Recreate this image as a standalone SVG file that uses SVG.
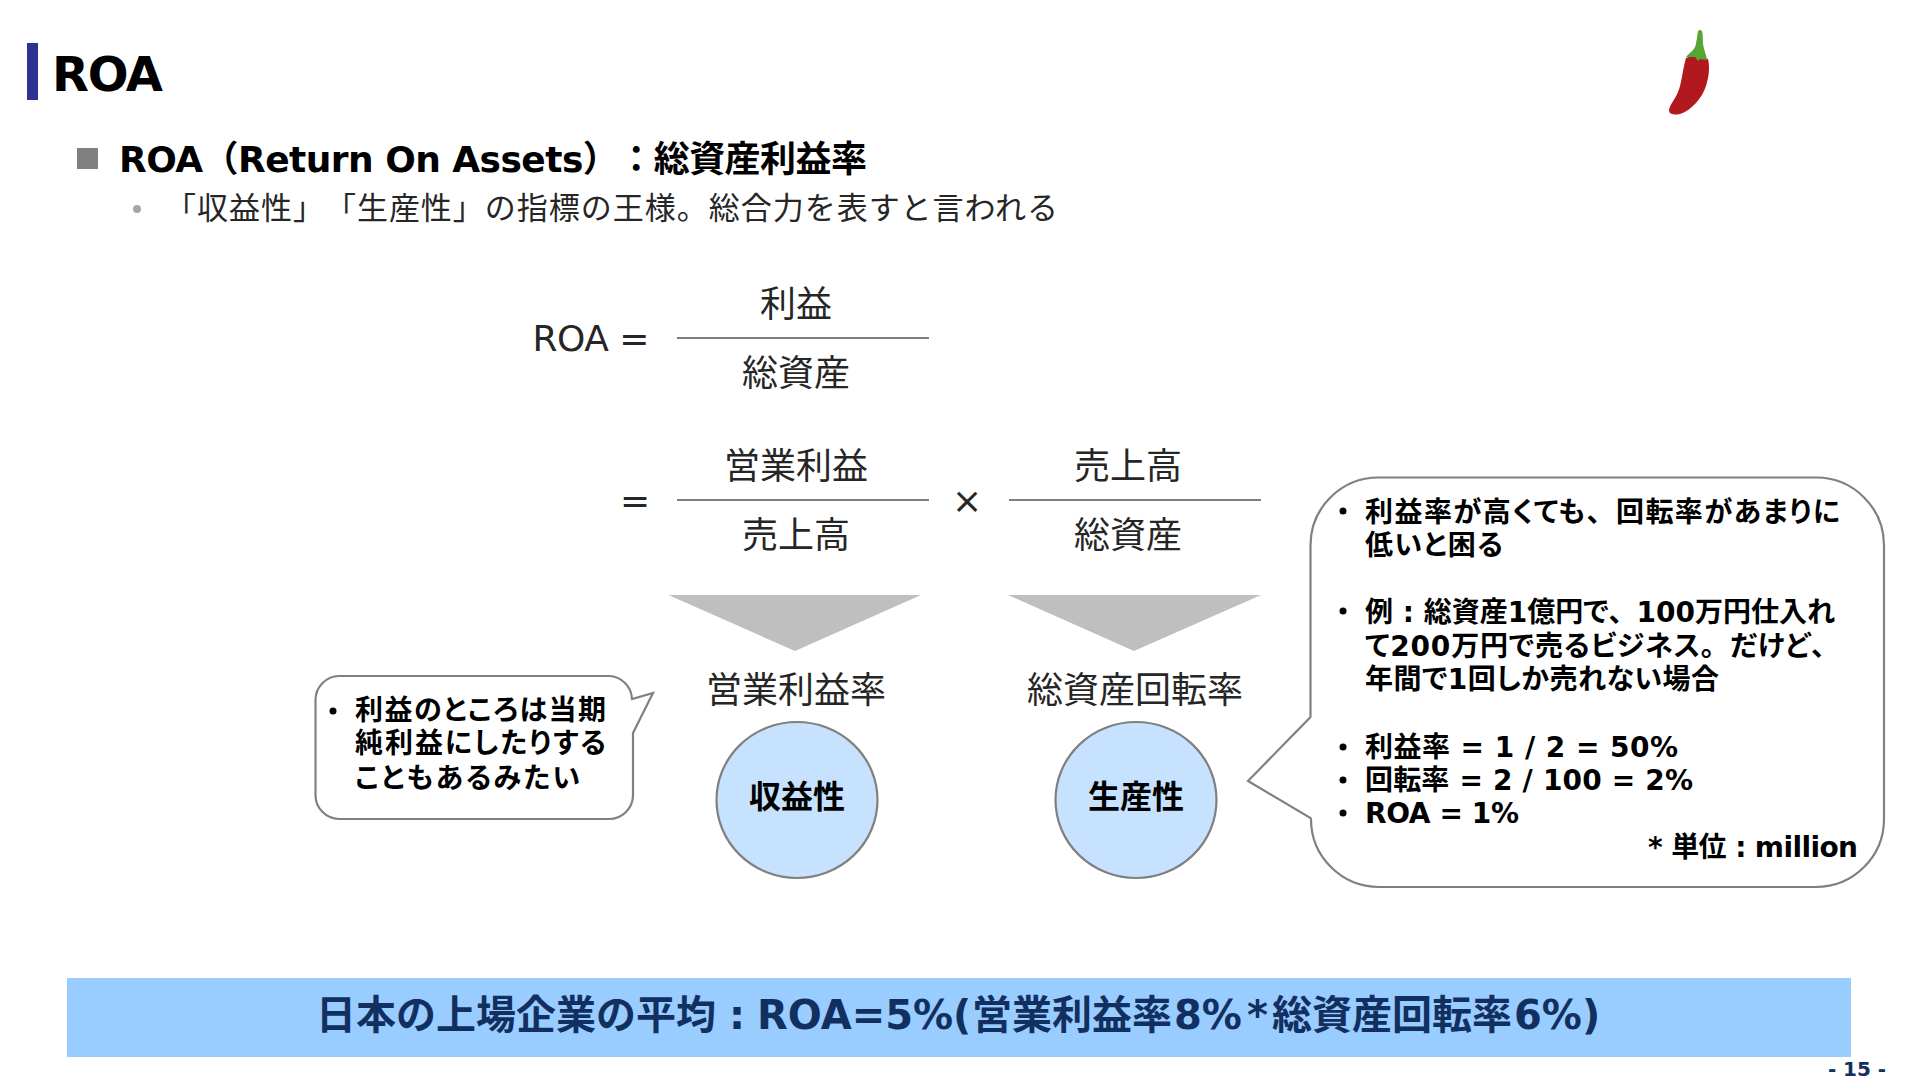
<svg xmlns="http://www.w3.org/2000/svg" width="1920" height="1080" viewBox="0 0 1920 1080">
<style>
text{font-family:"DejaVu Sans","Noto Sans CJK JP",sans-serif;fill:#000;text-spacing-trim:space-all}
.b{font-weight:700}
.f{font-size:36px;fill:#262626;text-anchor:middle}
.c{font-size:28px;font-weight:700;font-feature-settings:"palt"}
.n{font-feature-settings:"palt" 0}
.rule{stroke:#7f7f7f;stroke-width:2;fill:none}
.tri{fill:#bfbfbf}
.bub{fill:#fff;stroke:#808080;stroke-width:2.2}
.ell{fill:#c6e2ff;stroke:#808080;stroke-width:2.2}
</style>
<rect width="1920" height="1080" fill="#fff"/>
<g id="title">
<rect x="27" y="43" width="11" height="57" fill="#2e3192"/>
<text class="b" x="52" y="91" font-size="48" textLength="111">ROA</text>
</g>
<g id="chili">
<path d="M1686 58C1682 72 1682 82 1678 92C1675 100 1669 105 1669 111C1670 115 1675 115 1680 114C1692 110 1702 98 1706 86C1709 76 1710 68 1708 59L1697 54Z" fill="#b2191f"/>
<path d="M1698 31C1700 29 1702 30 1702.500 33L1703 44C1704 50 1706 54 1707 60L1700 59L1698 61L1695 57L1686 57C1690 52 1695 50 1696 44Z" fill="#56a632"/>
</g>
<g id="heading">
<rect x="77" y="148" width="21" height="21" fill="#808080"/>
<text class="b" x="119" y="172" font-size="36" textLength="748">ROA（Return On Assets）：総資産利益率</text>
<circle cx="137" cy="209" r="4" fill="#a6a6a6"/>
<text x="165" y="219" font-size="31" style="fill:#262626" textLength="893">「収益性」「生産性」の指標の王様。総合力を表すと言われる</text>
</g>
<g id="formula">
<text class="f" x="591" y="351" textLength="117">ROA =</text>
<text class="f" x="796" y="317">利益</text>
<line class="rule" x1="677" y1="338" x2="929" y2="338"/>
<text class="f" x="796" y="386">総資産</text>
<text class="f" x="635" y="513">=</text>
<text class="f" x="796" y="479">営業利益</text>
<line class="rule" x1="677" y1="500" x2="929" y2="500"/>
<text class="f" x="796" y="548">売上高</text>
<text class="f" x="967" y="513" font-size="32">×</text>
<text class="f" x="1128" y="479">売上高</text>
<line class="rule" x1="1009" y1="500" x2="1261" y2="500"/>
<text class="f" x="1128" y="548">総資産</text>
</g>
<g id="connectors">
<polygon class="tri" points="668.500,595 921,595 795,651"/>
<polygon class="tri" points="1008,595 1261,595 1134,651"/>
</g>
<g id="node-profitability">
<text class="f" x="796" y="703">営業利益率</text>
<ellipse class="ell" cx="797" cy="800" rx="80.500" ry="78"/>
<text class="b" x="797" y="808" font-size="32" text-anchor="middle">収益性</text>
</g>
<g id="node-productivity">
<text class="f" x="1135" y="703">総資産回転率</text>
<ellipse class="ell" cx="1136" cy="800" rx="80.500" ry="78"/>
<text class="b" x="1136" y="808" font-size="32" text-anchor="middle">生産性</text>
</g>
<g id="callout-left">
<path class="bub" d="M339 676H609A24 24 0 0 1 632 699L653 693L633 733V795A24 24 0 0 1 609 819H339A24 24 0 0 1 315.500 795V700A24 24 0 0 1 339 676Z"/>
<circle cx="333" cy="711" r="3.500" fill="#000"/>
<text class="c" x="355" y="720" textLength="251">利益のところは当期</text>
<text class="c" x="355" y="753" textLength="251">純利益にしたりする</text>
<text class="c" x="355" y="788" textLength="225">こともあるみたい</text>
</g>
<g id="callout-right">
<path class="bub" d="M1379 477.500H1816A68 68 0 0 1 1884 545.500V819A68 68 0 0 1 1816 887H1379A68 68 0 0 1 1311 819L1310.500 818L1248 781L1310.500 717V545.500A68 68 0 0 1 1379 477.500Z"/>
<g fill="#000">
<circle cx="1343" cy="511" r="3.500"/>
<circle cx="1343" cy="611" r="3.500"/>
<circle cx="1343" cy="747" r="3.500"/>
<circle cx="1343" cy="780" r="3.500"/>
<circle cx="1343" cy="813" r="3.500"/>
</g>
<text class="c" x="1365" y="522" textLength="475">利益率が高くても<tspan class="n">、</tspan>回転率があまりに</text>
<text class="c" x="1365" y="555" textLength="138">低いと困る</text>
<text class="c" x="1365" y="622" textLength="470">例 : 総資産1億円で<tspan class="n">、</tspan>100万円仕入れ</text>
<text class="c" x="1365" y="656" textLength="474">て200万円で売るビジネス<tspan class="n">。</tspan>だけど<tspan class="n">、</tspan></text>
<text class="c" x="1365" y="689" textLength="354">年間で1回しか売れない場合</text>
<text class="c" x="1365" y="757" textLength="313">利益率 = 1 / 2 = 50%</text>
<text class="c" x="1365" y="790" textLength="328">回転率 = 2 / 100 = 2%</text>
<text class="c" x="1365" y="823" textLength="154">ROA = 1%</text>
<text class="c" x="1648" y="857" textLength="210">* 単位 : million</text>
</g>
<g id="summary">
<rect x="67" y="978" width="1784" height="79" fill="#99ccff"/>
<text class="b" x="316" y="1029" font-size="40" style="fill:#12305f" font-feature-settings="palt">日本の上場企業の平均<tspan x="729">:</tspan><tspan x="757">ROA=5%(</tspan><tspan x="972">営業利益率</tspan><tspan x="1174">8%</tspan><tspan x="1247">*</tspan><tspan x="1272">総資産回転率</tspan><tspan x="1514">6%)</tspan></text>
</g>
<g id="page">
<text class="b" x="1828" y="1076" font-size="20" style="fill:#12305f" textLength="58">- 15 -</text>
</g>
</svg>
